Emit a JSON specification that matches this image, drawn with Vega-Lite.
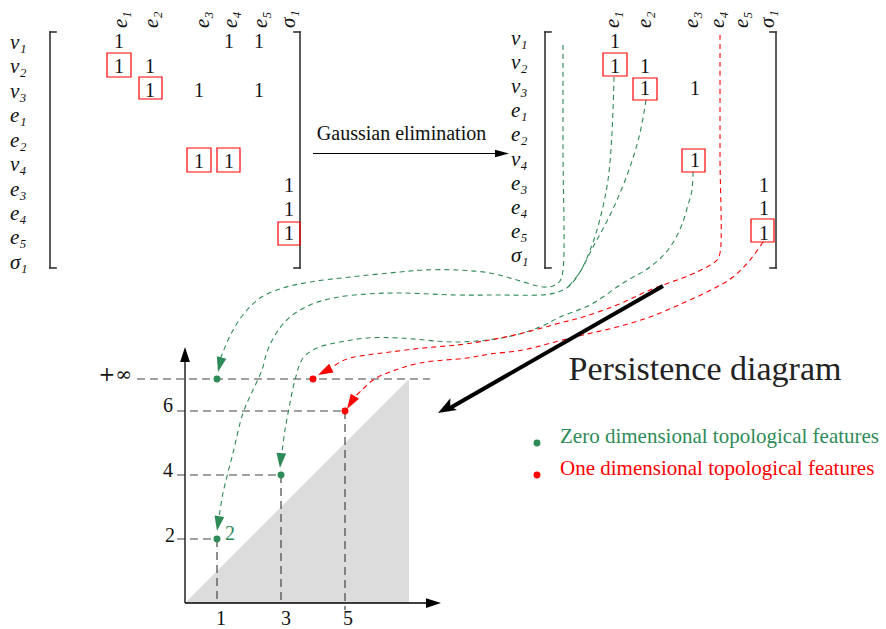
{
  "$schema": "https://vega.github.io/schema/vega-lite/v6.json",
  "width": 886,
  "height": 629,
  "autosize": {"type": "none"},
  "padding": 0,
  "background": "white",
  "config": {"view": {"stroke": null}, "text": {"font": "Liberation Serif", "color": "#111"}},
  "datasets": {
    "shade": [{"x": 0, "y": 0}, {"x": 7, "y": 7}],
    "guides": [
      {"x": -1.5, "y": 7, "x2": 7.66, "y2": 7},
      {"x": -0.25, "y": 6, "x2": 5, "y2": 6},
      {"x": -0.25, "y": 4, "x2": 3, "y2": 4},
      {"x": -0.25, "y": 2, "x2": 1, "y2": 2},
      {"x": 1, "y": 2, "x2": 1, "y2": 0},
      {"x": 3, "y": 4, "x2": 3, "y2": 0},
      {"x": 5, "y": 6, "x2": 5, "y2": -0.22}
    ],
    "segments": [
      {"kind": "axis", "x": 0, "y": 0, "x2": 7.8, "y2": 0},
      {"kind": "axis", "x": 0, "y": 0, "x2": 0, "y2": 7.8},
      {"kind": "gauss", "x": 4.0, "y": 14.047, "x2": 9.95, "y2": 14.047},
      {"kind": "thick", "x": 14.9375, "y": 9.906, "x2": 8.2, "y2": 6.05}
    ],
    "brackets": [
      {"x": -4.219, "y": 17.844, "x2": -4.219, "y2": 10.469},
      {"x": -4.219, "y": 17.844, "x2": -4.031, "y2": 17.844},
      {"x": -4.219, "y": 10.469, "x2": -4.031, "y2": 10.469},
      {"x": 3.594, "y": 17.844, "x2": 3.594, "y2": 10.469},
      {"x": 3.406, "y": 17.844, "x2": 3.594, "y2": 17.844},
      {"x": 3.406, "y": 10.469, "x2": 3.594, "y2": 10.469},
      {"x": 11.25, "y": 17.844, "x2": 11.25, "y2": 10.469},
      {"x": 11.25, "y": 17.844, "x2": 11.4375, "y2": 17.844},
      {"x": 11.25, "y": 10.469, "x2": 11.4375, "y2": 10.469},
      {"x": 18.469, "y": 17.844, "x2": 18.469, "y2": 10.469},
      {"x": 18.281, "y": 17.844, "x2": 18.469, "y2": 17.844},
      {"x": 18.281, "y": 10.469, "x2": 18.469, "y2": 10.469}
    ],
    "boxes": [
      {"x": -2.4375, "x2": -1.6875, "y": 17.1875, "y2": 16.4375},
      {"x": -1.4375, "x2": -0.71875, "y": 16.4375, "y2": 15.75},
      {"x": 0.0625, "x2": 0.8125, "y": 14.21875, "y2": 13.46875},
      {"x": 1.0, "x2": 1.71875, "y": 14.21875, "y2": 13.46875},
      {"x": 2.90625, "x2": 3.59375, "y": 11.90625, "y2": 11.1875},
      {"x": 13.0625, "x2": 13.8125, "y": 17.1875, "y2": 16.46875},
      {"x": 14.0, "x2": 14.75, "y": 16.40625, "y2": 15.71875},
      {"x": 15.53125, "x2": 16.25, "y": 14.1875, "y2": 13.46875},
      {"x": 17.6875, "x2": 18.40625, "y": 12.0, "y2": 11.28125}
    ],
    "rowlab": [
      {"t": "v₁", "x": -5.469, "y": 17.31}, {"t": "v₂", "x": -5.469, "y": 16.55},
      {"t": "v₃", "x": -5.469, "y": 15.78}, {"t": "e₁", "x": -5.469, "y": 15.03},
      {"t": "e₂", "x": -5.469, "y": 14.25}, {"t": "v₄", "x": -5.469, "y": 13.5},
      {"t": "e₃", "x": -5.469, "y": 12.72}, {"t": "e₄", "x": -5.469, "y": 11.97},
      {"t": "e₅", "x": -5.469, "y": 11.22}, {"t": "σ₁", "x": -5.469, "y": 10.44},
      {"t": "v₁", "x": 10.1875, "y": 17.44}, {"t": "v₂", "x": 10.1875, "y": 16.69},
      {"t": "v₃", "x": 10.1875, "y": 15.94}, {"t": "e₁", "x": 10.1875, "y": 15.19},
      {"t": "e₂", "x": 10.1875, "y": 14.44}, {"t": "v₄", "x": 10.1875, "y": 13.66},
      {"t": "e₃", "x": 10.1875, "y": 12.91}, {"t": "e₄", "x": 10.1875, "y": 12.16},
      {"t": "e₅", "x": 10.1875, "y": 11.41}, {"t": "σ₁", "x": 10.1875, "y": 10.66}
    ],
    "collab": [
      {"t": "e₁", "x": -2.0, "y": 17.97}, {"t": "e₂", "x": -1.03, "y": 17.97},
      {"t": "e₃", "x": 0.56, "y": 17.97}, {"t": "e₄", "x": 1.44, "y": 17.97},
      {"t": "e₅", "x": 2.38, "y": 17.97}, {"t": "σ₁", "x": 3.25, "y": 17.97},
      {"t": "e₁", "x": 13.38, "y": 17.97}, {"t": "e₂", "x": 14.38, "y": 17.97},
      {"t": "e₃", "x": 15.84, "y": 17.97}, {"t": "e₄", "x": 16.66, "y": 17.97},
      {"t": "e₅", "x": 17.41, "y": 17.97}, {"t": "σ₁", "x": 18.22, "y": 17.97}
    ],
    "ones": [
      {"x": -2.0625, "y": 17.34375}, {"x": 1.375, "y": 17.34375}, {"x": 2.3125, "y": 17.34375},
      {"x": -2.0625, "y": 16.5625}, {"x": -1.09375, "y": 16.5625},
      {"x": -1.09375, "y": 15.8125}, {"x": 0.4375, "y": 15.8125}, {"x": 2.3125, "y": 15.8125},
      {"x": 0.4375, "y": 13.59375}, {"x": 1.375, "y": 13.59375},
      {"x": 3.25, "y": 12.84375}, {"x": 3.25, "y": 12.09375}, {"x": 3.25, "y": 11.34375},
      {"x": 13.4375, "y": 17.34375},
      {"x": 13.4375, "y": 16.5625}, {"x": 14.375, "y": 16.5625},
      {"x": 14.375, "y": 15.875}, {"x": 15.9375, "y": 15.875},
      {"x": 15.9375, "y": 13.625},
      {"x": 18.09375, "y": 12.84375}, {"x": 18.09375, "y": 12.125}, {"x": 18.09375, "y": 11.34375}
    ],
    "curves": [
      {"id": "G1", "dim": "zero", "i": 0, "x": 11.8125, "y": 17.4375},
      {"id": "G1", "dim": "zero", "i": 1, "x": 11.8125, "y": 14.156},
      {"id": "G1", "dim": "zero", "i": 2, "x": 11.8125, "y": 10.406},
      {"id": "G1", "dim": "zero", "i": 3, "x": 11.719, "y": 10.0625},
      {"id": "G1", "dim": "zero", "i": 4, "x": 11.5, "y": 9.906},
      {"id": "G1", "dim": "zero", "i": 5, "x": 11.1875, "y": 9.875},
      {"id": "G1", "dim": "zero", "i": 6, "x": 10.375, "y": 10.094},
      {"id": "G1", "dim": "zero", "i": 7, "x": 9.531, "y": 10.3125},
      {"id": "G1", "dim": "zero", "i": 8, "x": 8.5, "y": 10.406},
      {"id": "G1", "dim": "zero", "i": 9, "x": 7.4375, "y": 10.406},
      {"id": "G1", "dim": "zero", "i": 10, "x": 6.719, "y": 10.344},
      {"id": "G1", "dim": "zero", "i": 11, "x": 5.156, "y": 10.1875},
      {"id": "G1", "dim": "zero", "i": 12, "x": 3.906, "y": 10.031},
      {"id": "G1", "dim": "zero", "i": 13, "x": 3.0625, "y": 9.844},
      {"id": "G1", "dim": "zero", "i": 14, "x": 2.344, "y": 9.531},
      {"id": "G1", "dim": "zero", "i": 15, "x": 1.8125, "y": 9.0},
      {"id": "G1", "dim": "zero", "i": 16, "x": 1.469, "y": 8.469},
      {"id": "G1", "dim": "zero", "i": 17, "x": 1.1875, "y": 7.844},
      {"id": "G1", "dim": "zero", "i": 18, "x": 1.094, "y": 7.594},
      {"id": "G2", "dim": "zero", "i": 0, "x": 13.406, "y": 16.4375},
      {"id": "G2", "dim": "zero", "i": 1, "x": 13.344, "y": 14.6875},
      {"id": "G2", "dim": "zero", "i": 2, "x": 13.219, "y": 13.219},
      {"id": "G2", "dim": "zero", "i": 3, "x": 13.0, "y": 12.125},
      {"id": "G2", "dim": "zero", "i": 4, "x": 12.719, "y": 11.1875},
      {"id": "G2", "dim": "zero", "i": 5, "x": 12.344, "y": 10.344},
      {"id": "G2", "dim": "zero", "i": 6, "x": 11.969, "y": 9.875},
      {"id": "G2", "dim": "zero", "i": 7, "x": 11.5625, "y": 9.6875},
      {"id": "G2", "dim": "zero", "i": 8, "x": 11.094, "y": 9.625},
      {"id": "G2", "dim": "zero", "i": 9, "x": 9.844, "y": 9.625},
      {"id": "G2", "dim": "zero", "i": 10, "x": 8.5, "y": 9.625},
      {"id": "G2", "dim": "zero", "i": 11, "x": 6.719, "y": 9.6875},
      {"id": "G2", "dim": "zero", "i": 12, "x": 5.6875, "y": 9.656},
      {"id": "G2", "dim": "zero", "i": 13, "x": 4.625, "y": 9.531},
      {"id": "G2", "dim": "zero", "i": 14, "x": 3.906, "y": 9.3125},
      {"id": "G2", "dim": "zero", "i": 15, "x": 3.281, "y": 8.9375},
      {"id": "G2", "dim": "zero", "i": 16, "x": 2.875, "y": 8.469},
      {"id": "G2", "dim": "zero", "i": 17, "x": 2.5625, "y": 7.844},
      {"id": "G2", "dim": "zero", "i": 18, "x": 2.406, "y": 7.281},
      {"id": "G2", "dim": "zero", "i": 19, "x": 2.094, "y": 6.594},
      {"id": "G2", "dim": "zero", "i": 20, "x": 1.8125, "y": 5.9375},
      {"id": "G2", "dim": "zero", "i": 21, "x": 1.5, "y": 4.6875},
      {"id": "G2", "dim": "zero", "i": 22, "x": 1.1875, "y": 3.4375},
      {"id": "G2", "dim": "zero", "i": 23, "x": 1.07, "y": 2.72},
      {"id": "G2b", "dim": "zero", "i": 0, "x": 14.406, "y": 15.719},
      {"id": "G2b", "dim": "zero", "i": 1, "x": 14.219, "y": 14.6875},
      {"id": "G2b", "dim": "zero", "i": 2, "x": 13.906, "y": 13.625},
      {"id": "G2b", "dim": "zero", "i": 3, "x": 13.5, "y": 12.594},
      {"id": "G2b", "dim": "zero", "i": 4, "x": 13.125, "y": 11.8125},
      {"id": "G2b", "dim": "zero", "i": 5, "x": 12.75, "y": 11.125},
      {"id": "G2b", "dim": "zero", "i": 6, "x": 12.344, "y": 10.344},
      {"id": "G2b", "dim": "zero", "i": 7, "x": 11.969, "y": 9.875},
      {"id": "G3", "dim": "zero", "i": 0, "x": 15.875, "y": 13.469},
      {"id": "G3", "dim": "zero", "i": 1, "x": 15.844, "y": 12.906},
      {"id": "G3", "dim": "zero", "i": 2, "x": 15.719, "y": 12.4375},
      {"id": "G3", "dim": "zero", "i": 3, "x": 15.5, "y": 11.75},
      {"id": "G3", "dim": "zero", "i": 4, "x": 15.094, "y": 11.031},
      {"id": "G3", "dim": "zero", "i": 5, "x": 14.531, "y": 10.5},
      {"id": "G3", "dim": "zero", "i": 6, "x": 13.6875, "y": 10.0},
      {"id": "G3", "dim": "zero", "i": 7, "x": 12.656, "y": 9.3125},
      {"id": "G3", "dim": "zero", "i": 8, "x": 11.719, "y": 8.9375},
      {"id": "G3", "dim": "zero", "i": 9, "x": 11.094, "y": 8.625},
      {"id": "G3", "dim": "zero", "i": 10, "x": 10.0625, "y": 8.3125},
      {"id": "G3", "dim": "zero", "i": 11, "x": 8.5, "y": 8.156},
      {"id": "G3", "dim": "zero", "i": 12, "x": 6.719, "y": 8.281},
      {"id": "G3", "dim": "zero", "i": 13, "x": 5.6875, "y": 8.281},
      {"id": "G3", "dim": "zero", "i": 14, "x": 4.844, "y": 8.156},
      {"id": "G3", "dim": "zero", "i": 15, "x": 4.125, "y": 7.969},
      {"id": "G3", "dim": "zero", "i": 16, "x": 3.6875, "y": 7.656},
      {"id": "G3", "dim": "zero", "i": 17, "x": 3.4375, "y": 6.969},
      {"id": "G3", "dim": "zero", "i": 18, "x": 3.281, "y": 6.25},
      {"id": "G3", "dim": "zero", "i": 19, "x": 3.125, "y": 5.406},
      {"id": "G3", "dim": "zero", "i": 20, "x": 3.031, "y": 4.719},
      {"id": "R1", "dim": "one", "i": 0, "x": 16.719, "y": 17.75},
      {"id": "R1", "dim": "one", "i": 1, "x": 16.719, "y": 14.0},
      {"id": "R1", "dim": "one", "i": 2, "x": 16.719, "y": 10.9375},
      {"id": "R1", "dim": "one", "i": 3, "x": 16.625, "y": 10.719},
      {"id": "R1", "dim": "one", "i": 4, "x": 16.25, "y": 10.469},
      {"id": "R1", "dim": "one", "i": 5, "x": 15.781, "y": 10.25},
      {"id": "R1", "dim": "one", "i": 6, "x": 14.531, "y": 9.781},
      {"id": "R1", "dim": "one", "i": 7, "x": 13.5, "y": 9.3125},
      {"id": "R1", "dim": "one", "i": 8, "x": 12.4375, "y": 8.9375},
      {"id": "R1", "dim": "one", "i": 9, "x": 11.719, "y": 8.75},
      {"id": "R1", "dim": "one", "i": 10, "x": 10.5625, "y": 8.4375},
      {"id": "R1", "dim": "one", "i": 11, "x": 9.531, "y": 8.219},
      {"id": "R1", "dim": "one", "i": 12, "x": 8.5, "y": 8.0625},
      {"id": "R1", "dim": "one", "i": 13, "x": 7.4375, "y": 7.969},
      {"id": "R1", "dim": "one", "i": 14, "x": 6.406, "y": 7.844},
      {"id": "R1", "dim": "one", "i": 15, "x": 5.6875, "y": 7.75},
      {"id": "R1", "dim": "one", "i": 16, "x": 5.156, "y": 7.656},
      {"id": "R1", "dim": "one", "i": 17, "x": 4.844, "y": 7.53},
      {"id": "R1", "dim": "one", "i": 18, "x": 4.6, "y": 7.36},
      {"id": "R2", "dim": "one", "i": 0, "x": 18.0625, "y": 11.281},
      {"id": "R2", "dim": "one", "i": 1, "x": 17.656, "y": 10.719},
      {"id": "R2", "dim": "one", "i": 2, "x": 17.125, "y": 10.1875},
      {"id": "R2", "dim": "one", "i": 3, "x": 16.5, "y": 9.8125},
      {"id": "R2", "dim": "one", "i": 4, "x": 15.5625, "y": 9.375},
      {"id": "R2", "dim": "one", "i": 5, "x": 14.531, "y": 8.9375},
      {"id": "R2", "dim": "one", "i": 6, "x": 13.5, "y": 8.625},
      {"id": "R2", "dim": "one", "i": 7, "x": 12.4375, "y": 8.375},
      {"id": "R2", "dim": "one", "i": 8, "x": 11.5625, "y": 8.156},
      {"id": "R2", "dim": "one", "i": 9, "x": 10.5625, "y": 7.906},
      {"id": "R2", "dim": "one", "i": 10, "x": 9.531, "y": 7.781},
      {"id": "R2", "dim": "one", "i": 11, "x": 8.8125, "y": 7.656},
      {"id": "R2", "dim": "one", "i": 12, "x": 7.344, "y": 7.5},
      {"id": "R2", "dim": "one", "i": 13, "x": 6.406, "y": 7.219},
      {"id": "R2", "dim": "one", "i": 14, "x": 5.875, "y": 6.969},
      {"id": "R2", "dim": "one", "i": 15, "x": 5.531, "y": 6.656},
      {"id": "R2", "dim": "one", "i": 16, "x": 5.33, "y": 6.47}
    ],
    "heads": [
      {"dim": "zero", "x": 1.087, "y": 7.446, "angle": 194},
      {"dim": "zero", "x": 1.037, "y": 2.481, "angle": 189},
      {"dim": "zero", "x": 2.989, "y": 4.452, "angle": 185},
      {"dim": "one", "x": 4.365, "y": 7.231, "angle": 243},
      {"dim": "one", "x": 5.186, "y": 6.261, "angle": 212}
    ],
    "blackheads": [
      {"kind": "axis", "x": 0, "y": 7.766, "angle": 0},
      {"kind": "axis", "x": 7.766, "y": 0, "angle": 90},
      {"kind": "gauss", "x": 9.906, "y": 14.047, "angle": 90},
      {"kind": "thick", "x": 8.151, "y": 6.076, "angle": 240.6}
    ],
    "pairs": [
      {"birth": 1, "death": 2, "dim": "zero"},
      {"birth": 3, "death": 4, "dim": "zero"},
      {"birth": 1, "death": 7, "dim": "zero"},
      {"birth": 4, "death": 7, "dim": "one"},
      {"birth": 5, "death": 6, "dim": "one"}
    ],
    "xticks": [
      {"t": "1", "x": 1.125, "y": -0.6875},
      {"t": "3", "x": 3.156, "y": -0.6875},
      {"t": "5", "x": 5.094, "y": -0.6875}
    ],
    "yticks": [
      {"t": "2", "x": -0.3125, "y": 1.906},
      {"t": "4", "x": -0.375, "y": 3.9375},
      {"t": "6", "x": -0.375, "y": 5.97}
    ],
    "inf": [{"t": "+∞", "x": -1.656, "y": 6.94}],
    "mult": [{"t": "2", "x": 1.25, "y": 1.97}],
    "gauss": [{"t": "Gaussian elimination", "x": 6.766, "y": 14.469}],
    "title": [{"t": "Persistence diagram", "x": 16.25, "y": 6.97}],
    "legend": [
      {"label": "Zero dimensional topological features", "dim": "zero", "x": 11.0, "tx": 11.72, "y": 5.0},
      {"label": "One dimensional topological features", "dim": "one", "x": 11.0, "tx": 11.72, "y": 4.0}
    ]
  },
  "encoding": {
    "x": {"field": "x", "type": "quantitative", "scale": {"domain": [-5.78125, 21.90625], "nice": false, "zero": false}, "axis": null},
    "y": {"field": "y", "type": "quantitative", "scale": {"domain": [-0.8125, 18.84375], "nice": false, "zero": false}, "axis": null}
  },
  "layer": [
    {
      "data": {"name": "shade"},
      "mark": {"type": "area", "color": "#dcdcdc"},
      "encoding": {"y2": {"datum": 0}}
    },
    {
      "data": {"name": "guides"},
      "mark": {"type": "rule", "color": "#444", "strokeWidth": 1.2, "strokeDash": [8, 5]},
      "encoding": {"x2": {"field": "x2"}, "y2": {"field": "y2"}}
    },
    {
      "data": {"name": "curves"},
      "mark": {"type": "line", "strokeWidth": 1.1, "strokeDash": [5, 4], "interpolate": "catmull-rom"},
      "encoding": {
        "color": {"field": "dim", "type": "nominal", "scale": {"domain": ["zero", "one"], "range": ["#2e8b57", "#ff0000"]}, "legend": null},
        "detail": {"field": "id"},
        "order": {"field": "i", "type": "quantitative"}
      }
    },
    {
      "data": {"name": "segments"},
      "transform": [{"filter": "datum.kind === 'axis'"}],
      "mark": {"type": "rule", "color": "#000", "strokeWidth": 1.3},
      "encoding": {"x2": {"field": "x2"}, "y2": {"field": "y2"}}
    },
    {
      "data": {"name": "segments"},
      "transform": [{"filter": "datum.kind === 'gauss'"}],
      "mark": {"type": "rule", "color": "#000", "strokeWidth": 1.1},
      "encoding": {"x2": {"field": "x2"}, "y2": {"field": "y2"}}
    },
    {
      "data": {"name": "segments"},
      "transform": [{"filter": "datum.kind === 'thick'"}],
      "mark": {"type": "rule", "color": "#000", "strokeWidth": 4},
      "encoding": {"x2": {"field": "x2"}, "y2": {"field": "y2"}}
    },
    {
      "data": {"name": "brackets"},
      "mark": {"type": "rule", "color": "#333", "strokeWidth": 1.6, "strokeCap": "square"},
      "encoding": {"x2": {"field": "x2"}, "y2": {"field": "y2"}}
    },
    {
      "data": {"name": "boxes"},
      "mark": {"type": "rect", "filled": false, "color": "#ff0000", "strokeWidth": 1.2},
      "encoding": {"x2": {"field": "x2"}, "y2": {"field": "y2"}}
    },
    {
      "data": {"name": "heads"},
      "mark": {"type": "point", "shape": "M0,-1L0.65,1L-0.65,1Z", "size": 225, "filled": true, "opacity": 1},
      "encoding": {
        "color": {"field": "dim", "type": "nominal", "scale": {"domain": ["zero", "one"], "range": ["#2e8b57", "#ff0000"]}, "legend": null},
        "angle": {"field": "angle", "type": "quantitative", "scale": null}
      }
    },
    {
      "data": {"name": "blackheads"},
      "transform": [{"filter": "datum.kind === 'axis'"}],
      "mark": {"type": "point", "shape": "M0,-1L0.65,1L-0.65,1Z", "size": 225, "filled": true, "opacity": 1, "color": "#000"},
      "encoding": {"angle": {"field": "angle", "type": "quantitative", "scale": null}}
    },
    {
      "data": {"name": "blackheads"},
      "transform": [{"filter": "datum.kind === 'gauss'"}],
      "mark": {"type": "point", "shape": "M0,-1L0.55,1L-0.55,1Z", "size": 196, "filled": true, "opacity": 1, "color": "#000"},
      "encoding": {"angle": {"field": "angle", "type": "quantitative", "scale": null}}
    },
    {
      "data": {"name": "blackheads"},
      "transform": [{"filter": "datum.kind === 'thick'"}],
      "mark": {"type": "point", "shape": "M0,-1L0.75,1L0,0.55L-0.75,1Z", "size": 324, "filled": true, "opacity": 1, "color": "#000"},
      "encoding": {"angle": {"field": "angle", "type": "quantitative", "scale": null}}
    },
    {
      "data": {"name": "pairs"},
      "mark": {"type": "point", "filled": true, "opacity": 1, "size": 48},
      "encoding": {
        "x": {"field": "birth", "type": "quantitative", "scale": {"domain": [-5.78125, 21.90625], "nice": false, "zero": false}, "axis": null},
        "y": {"field": "death", "type": "quantitative", "scale": {"domain": [-0.8125, 18.84375], "nice": false, "zero": false}, "axis": null},
        "color": {"field": "dim", "type": "nominal", "scale": {"domain": ["zero", "one"], "range": ["#2e8b57", "#ff0000"]}, "legend": null}
      }
    },
    {
      "data": {"name": "legend"},
      "mark": {"type": "point", "filled": true, "opacity": 1, "size": 48},
      "encoding": {
        "color": {"field": "dim", "type": "nominal", "scale": {"domain": ["zero", "one"], "range": ["#2e8b57", "#ff0000"]}, "legend": null}
      }
    },
    {
      "data": {"name": "legend"},
      "mark": {"type": "text", "align": "left", "baseline": "alphabetic", "fontSize": 21},
      "encoding": {
        "x": {"field": "tx", "type": "quantitative", "scale": {"domain": [-5.78125, 21.90625], "nice": false, "zero": false}, "axis": null},
        "text": {"field": "label"},
        "color": {"field": "dim", "type": "nominal", "scale": {"domain": ["zero", "one"], "range": ["#2e8b57", "#ff0000"]}, "legend": null}
      }
    },
    {
      "data": {"name": "rowlab"},
      "mark": {"type": "text", "align": "left", "baseline": "alphabetic", "fontSize": 21, "fontStyle": "italic"},
      "encoding": {"text": {"field": "t"}}
    },
    {
      "data": {"name": "collab"},
      "mark": {"type": "text", "align": "left", "baseline": "middle", "angle": 270, "fontSize": 21, "fontStyle": "italic"},
      "encoding": {"text": {"field": "t"}}
    },
    {
      "data": {"name": "ones"},
      "mark": {"type": "text", "align": "center", "baseline": "alphabetic", "fontSize": 20, "text": "1"},
      "encoding": {}
    },
    {
      "data": {"name": "xticks"},
      "mark": {"type": "text", "align": "center", "baseline": "alphabetic", "fontSize": 20},
      "encoding": {"text": {"field": "t"}}
    },
    {
      "data": {"name": "yticks"},
      "mark": {"type": "text", "align": "right", "baseline": "alphabetic", "fontSize": 20},
      "encoding": {"text": {"field": "t"}}
    },
    {
      "data": {"name": "inf"},
      "mark": {"type": "text", "align": "right", "baseline": "alphabetic", "fontSize": 20, "font": "DejaVu Serif"},
      "encoding": {"text": {"field": "t"}}
    },
    {
      "data": {"name": "mult"},
      "mark": {"type": "text", "align": "left", "baseline": "alphabetic", "fontSize": 20, "color": "#2e8b57"},
      "encoding": {"text": {"field": "t"}}
    },
    {
      "data": {"name": "gauss"},
      "mark": {"type": "text", "align": "center", "baseline": "alphabetic", "fontSize": 20},
      "encoding": {"text": {"field": "t"}}
    },
    {
      "data": {"name": "title"},
      "mark": {"type": "text", "align": "center", "baseline": "alphabetic", "fontSize": 34, "color": "#222"},
      "encoding": {"text": {"field": "t"}}
    }
  ]
}
